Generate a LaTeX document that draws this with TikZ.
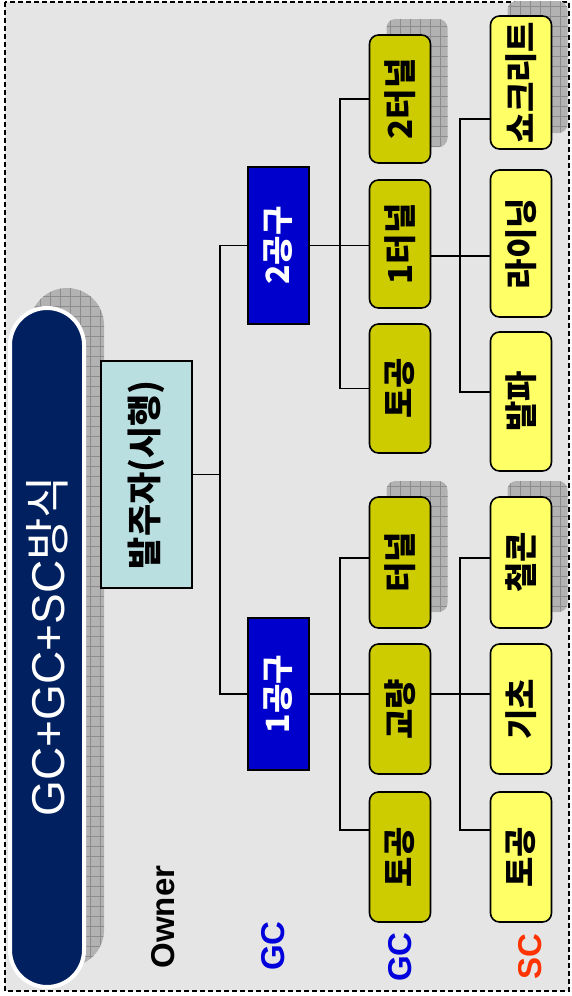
\documentclass[tikz,border=0pt]{standalone}
\usepackage{fontspec}
\setmainfont{Liberation Sans}
\newfontfamily\kr{Noto Sans CJK KR}
\usepackage{graphicx}
\usetikzlibrary{patterns.meta}

\definecolor{bggray}{HTML}{E5E5E5}
\definecolor{navy}{HTML}{00205F}
\definecolor{ownercyan}{HTML}{B9DFE1}
\definecolor{gongublue}{HTML}{0000CC}
\definecolor{gcyel}{HTML}{CCCC00}
\definecolor{scyel}{HTML}{FFFF66}
\definecolor{gcblue}{HTML}{0000DD}
\definecolor{scred}{HTML}{FF3300}

\newcommand{\vtext}[1]{\rotatebox{90}{#1}}

\begin{document}
\begin{tikzpicture}[
  x=1pt,y=-1pt,
  gcbox/.style={draw,line width=1.6pt,rounded corners=9pt,fill=gcyel,minimum width=61pt,
                inner sep=0pt,font=\kr\bfseries\fontsize{33}{33}\selectfont},
  scbox/.style={gcbox,fill=scyel},
  gongu/.style={draw,line width=1.6pt,fill=gongublue,text=white,minimum width=61pt,
                inner sep=0pt,font=\kr\bfseries\fontsize{32}{32}\selectfont},
  lvl/.style={font=\bfseries\fontsize{33}{33}\selectfont},
  shd/.style={fill=gray!60,rounded corners=9pt,
              postaction={pattern={Hatch[distance=10pt,angle=0,line width=0.6pt]},pattern color=gray!90}},
  conn/.style={line width=1.6pt}
]
  \useasboundingbox (0,0) rectangle (572,996);

  %% ===== FRAME =====
  \draw[dash pattern=on 5pt off 3pt,line width=1.2pt,fill=bggray] (5,2) rectangle (569,991);

  % shadows
  \path[shd,rounded corners=37pt] (30,288) rectangle (104,967);
  \path[shd] (386.5,19) rectangle (447.5,147);
  \path[shd] (507.5,1) rectangle (567.5,133);
  \path[shd] (386.5,481) rectangle (447.5,612);
  \path[shd] (507.5,481) rectangle (567.5,612);

  % Title pill
  \path[fill=navy,draw=white,line width=4pt,rounded corners=37pt] (10,308) rectangle (84,987);
  \node[font=\fontsize{46}{46}\selectfont,text=white,inner sep=0pt] (title) at (47,646)
    {\vtext{GC+GC+SC{\kr 방식}}};

  %% ===== TREE =====

  % Owner
  \node[draw,line width=1.4pt,fill=ownercyan,minimum width=91pt,minimum height=227pt,inner sep=0pt,
        font=\kr\bfseries\fontsize{35}{35}\selectfont] (own) at (146.5,474.5) {\vtext{발주자(시행)}};

  % Level 1: 공구
  \node[gongu,minimum height=157pt] (g2) at (278.5,245.5) {\vtext{2공구}};
  \node[gongu,minimum height=152pt] (g1) at (278.5,694) {\vtext{1공구}};

  % Level 2: GC
  \node[gcbox,minimum height=128pt] (tun2) at (400,99) {\vtext{2터널}};
  \node[gcbox,minimum height=128pt] (tun1) at (400,244) {\vtext{1터널}};
  \node[gcbox,minimum height=129pt] (earth2) at (400,388.5) {\vtext{토공}};
  \node[gcbox,minimum height=131pt] (tun) at (400,562.5) {\vtext{터널}};
  \node[gcbox,minimum height=130pt] (brg) at (400,709) {\vtext{교량}};
  \node[gcbox,minimum height=130pt] (earth1) at (400,857) {\vtext{토공}};

  % Level 3: SC
  \node[scbox,minimum height=133pt] (shot) at (521,82.5) {\vtext{쇼크리트}};
  \node[scbox,minimum height=147pt] (lining) at (521,243.5) {\vtext{라이닝}};
  \node[scbox,minimum height=139pt] (blast) at (521,401.5) {\vtext{발파}};
  \node[scbox,minimum height=131pt] (rc) at (521,562.5) {\vtext{철콘}};
  \node[scbox,minimum height=130pt] (fdn) at (521,709) {\vtext{기초}};
  \node[scbox,minimum height=130pt] (earthsc) at (521,857) {\vtext{토공}};

  % connectors
  \coordinate (b2) at (340,0);
  \coordinate (b3) at (460,0);
  \draw[conn] (own.east) -- ++(27.5,0) coordinate (j1);
  \draw[conn] (g2.west) -| (j1) |- (g1.west);

  \draw[conn] (g2.east) -- (g2.east -| tun1.west);
  \draw[conn] (tun2.west) -| (b2 |- earth2.west) -- (earth2.west);

  \coordinate (tunin) at ([yshift=4.5pt]tun.west);
  \coordinate (earth1in) at ([yshift=27pt]earth1.west);
  \draw[conn] (g1.east) -- (g1.east -| brg.west);
  \draw[conn] (tunin) -| (b2 |- earth1in) -- (earth1in);

  \coordinate (shotin) at ([yshift=-36.5pt]shot.west);
  \coordinate (blastin) at ([yshift=9.5pt]blast.west);
  \draw[conn] ([yshift=-12pt]tun1.east) -- ([yshift=-12.5pt]lining.west);
  \draw[conn] (shotin) -| (b3 |- blastin) -- (blastin);

  \coordinate (rcin) at ([yshift=4.5pt]rc.west);
  \coordinate (earthscin) at ([yshift=27pt]earthsc.west);
  \draw[conn] ([yshift=15pt]brg.east) -- ([yshift=15pt]fdn.west);
  \draw[conn] (rcin) -| (b3 |- earthscin) -- (earthscin);

  % level labels
  \node[lvl] (lowner) at (163,917) {\vtext{Owner}};
  \node[lvl,text=gcblue] (lgc1) at (273,946) {\vtext{GC}};
  \node[lvl,text=gcblue] (lgc2) at (400,957) {\vtext{GC}};
  \node[lvl,text=scred] (lsc) at (530,957) {\vtext{SC}};

\end{tikzpicture}
\end{document}
